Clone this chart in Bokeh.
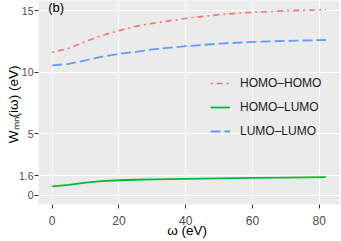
from bokeh.plotting import figure
from bokeh.models import Range1d, FixedTicker, CustomJSTickFormatter, Label
from bokeh.embed import file_html
from bokeh.resources import INLINE

omega = [0, 5, 10, 15, 20, 25, 30, 40, 50, 60, 70, 82]
homo_homo = [11.62, 11.95, 12.5, 13.0, 13.38, 13.73, 13.97, 14.38, 14.68, 14.88, 15.0, 15.08]
homo_lumo = [0.72, 0.85, 1.03, 1.15, 1.22, 1.26, 1.29, 1.34, 1.38, 1.41, 1.44, 1.47]
lumo_lumo = [10.55, 10.68, 10.97, 11.27, 11.49, 11.65, 11.85, 12.12, 12.32, 12.46, 12.55, 12.62]
x_ticks = [0, 20, 40, 60, 80]
y_ticks = [0, 1.6, 5, 10, 15]
series_names = ["HOMO–HOMO", "HOMO–LUMO", "LUMO–LUMO"]

FONT = "Liberation Sans"

p = figure(width=341, height=241, output_backend="svg", toolbar_location=None,
           x_range=Range1d(-4.1, 86.1), y_range=Range1d(-0.75, 15.83),
           min_border_left=38, min_border_right=2, min_border_top=0, min_border_bottom=37)

p.background_fill_color = "#EBEBEB"
p.border_fill_color = "white"
p.outline_line_color = None

p.xaxis.ticker = FixedTicker(ticks=x_ticks)
p.yaxis.ticker = FixedTicker(ticks=y_ticks)
p.yaxis.formatter = CustomJSTickFormatter(code="return tick.toString();")
p.xaxis.formatter = CustomJSTickFormatter(code="return tick.toString();")

for ax in (p.xaxis[0], p.yaxis[0]):
    ax.axis_line_color = None
    ax.major_tick_line_color = "#333333"
    ax.major_tick_in = 0
    ax.major_tick_out = 4
    ax.minor_tick_line_color = None
    ax.major_label_text_font = FONT
    ax.major_label_text_color = "#4D4D4D"
    ax.axis_label_text_font = FONT
    ax.axis_label_text_color = "black"
    ax.axis_label_text_font_style = "normal"
    ax.axis_label_text_font_size = "13.5px"

p.xaxis.major_label_text_font_size = "12px"
p.yaxis.major_label_text_font_size = "10.5px"
p.xaxis.major_label_standoff = 7
p.yaxis.major_label_standoff = 1
p.xaxis.axis_label = "ω  (eV)"
p.yaxis.axis_label = "Wₘₙ(iω)  (eV)"
p.xaxis.axis_label_standoff = -5
p.yaxis.axis_label_standoff = -5

p.xgrid.grid_line_color = "white"
p.ygrid.grid_line_color = "white"
p.xgrid.grid_line_width = 1.1
p.ygrid.grid_line_width = 1.1

p.line(omega, homo_homo, color="#F8766D", line_width=1.7, line_dash="2 4 6 4",
       legend_label=series_names[0])
p.line(omega, homo_lumo, color="#00BA38", line_width=1.8,
       legend_label=series_names[1])
p.line(omega, lumo_lumo, color="#619CFF", line_width=1.8, line_dash="10 4",
       legend_label=series_names[2])

p.add_layout(Label(x=1.2, y=15.25, text="(b)", text_font=FONT, text_font_size="13px",
                   text_align="center", text_baseline="middle", text_color="black"))

lg = p.legend[0]
lg.location = (172, 63)
lg.background_fill_alpha = 0
lg.border_line_color = None
lg.glyph_width = 20
lg.glyph_height = 20
lg.label_height = 20
lg.label_standoff = 10
lg.spacing = 4
lg.padding = 0
lg.margin = 0
lg.label_text_font = FONT
lg.label_text_font_size = "12px"
lg.label_text_color = "#1A1A1A"

open("out.html", "w").write(file_html(p, INLINE))
